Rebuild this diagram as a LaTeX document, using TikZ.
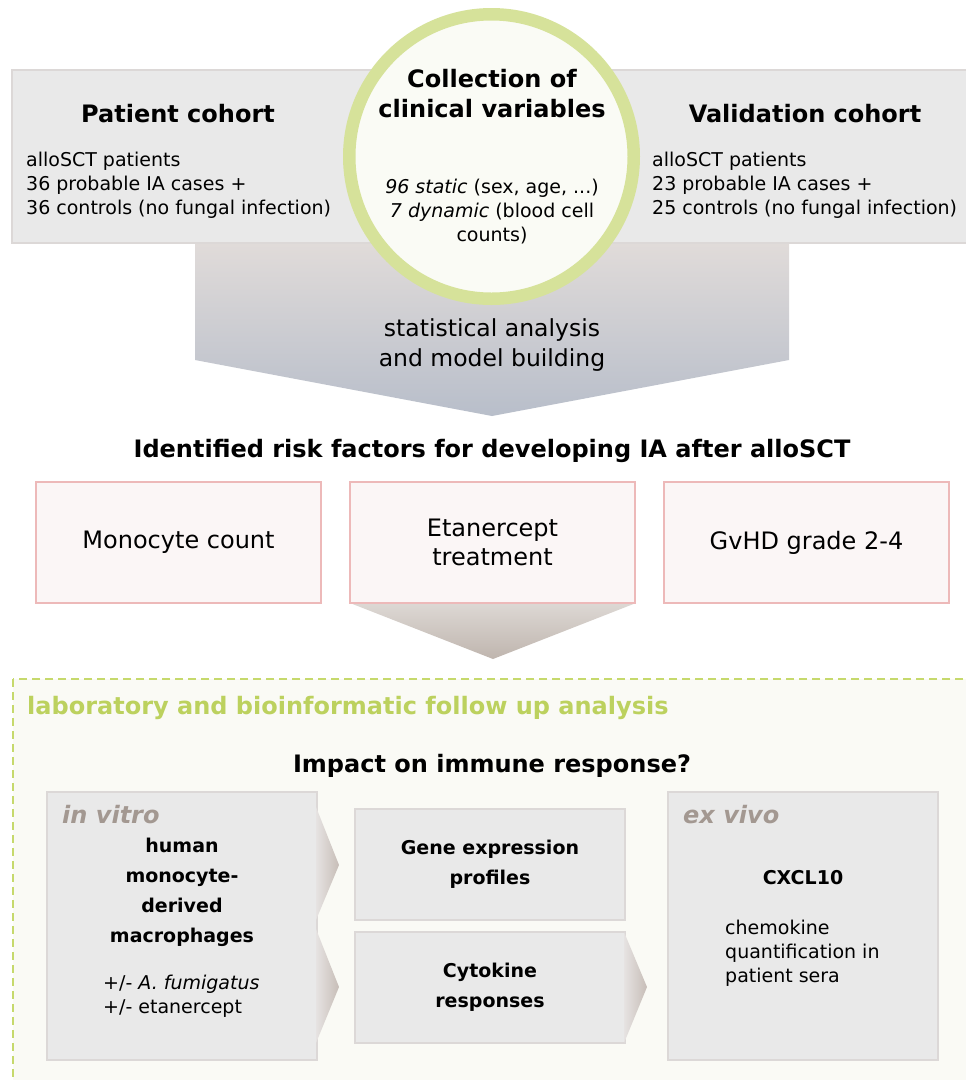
\documentclass[tikz,border=0pt]{standalone}
\usepackage{fontspec}
\setmainfont{DejaVu Sans}
\usepackage{xcolor}
\usetikzlibrary{positioning}
\definecolor{boxgrey}{HTML}{E9E9E9}
\definecolor{boxedge}{HTML}{DCD8D7}
\definecolor{ringgreen}{HTML}{D6E29A}
\definecolor{ringfill}{HTML}{FAFBF5}
\definecolor{arrowtop}{HTML}{E0DBD9}
\definecolor{arrowbot}{HTML}{B8BECA}
\definecolor{pinkfill}{HTML}{FBF6F6}
\definecolor{pinkedge}{HTML}{EDB9B9}
\definecolor{smalltop}{HTML}{DDD8D4}
\definecolor{smallbot}{HTML}{BFB5AE}
\definecolor{chevlight}{HTML}{E6E3E2}
\definecolor{chevdark}{HTML}{C7BDB7}
\definecolor{labgreen}{HTML}{BCD15E}
\definecolor{labedge}{HTML}{C6D96C}
\definecolor{labfill}{HTML}{FAFAF5}
\definecolor{vivogrey}{HTML}{A39891}
\tikzset{
    greybox/.style={draw=boxedge,fill=boxgrey,line width=2pt},
    riskbox/.style={draw=pinkedge,fill=pinkfill,line width=2pt,minimum width=285pt,minimum height=121pt,inner sep=0pt,align=center,font=\fontsize{24}{29}\selectfont},
    headfont/.style={font=\fontsize{24}{30}\bfseries\selectfont},
    bodyfont/.style={font=\fontsize{19}{24}\selectfont},
    smallhead/.style={font=\fontsize{19}{30}\bfseries\selectfont},
    vivofont/.style={font=\fontsize{24}{30}\bfseries\itshape\selectfont,text=vivogrey},
    chevron/.style={left color=chevlight,right color=chevdark}
}
\begin{document}
\begin{tikzpicture}[x=1pt,y=-1pt]
                \useasboundingbox (0,0) rectangle (966,1080);
                \fill[white] (0,0) rectangle (966,1080);
                \shade[top color=arrowtop,bottom color=arrowbot] (195,244) -- (789,244) -- (789,360) -- (492,416) -- (195,360) -- cycle;
                \draw[greybox] (12,70) rectangle (460,243);
                \draw[greybox] (520,70) rectangle (972,243);
                \node[circle,draw=ringgreen,fill=ringfill,line width=12.5pt,minimum size=284.5pt,inner sep=0pt] (collect) at (491.5,156.5) {};
                \node[headfont] (patient) at (178,114) {Patient cohort};
                \node[bodyfont,align=left,anchor=west,inner sep=0pt] (patienttext) at (26,185) {alloSCT patients\\36 probable IA cases +\\36 controls (no fungal infection)};
                \node[headfont] (validation) at (805,114) {Validation cohort};
                \node[bodyfont,align=left,anchor=west,inner sep=0pt] (validationtext) at (652,185) {alloSCT patients\\23 probable IA cases +\\25 controls (no fungal infection)};
                \node[headfont,align=center] (collecttitle) at (492,94) {Collection of\\clinical variables};
                \node[bodyfont,align=center] (collecttext) at (492,212) {\textit{96 static} (sex, age, ...)\\\textit{7 dynamic} (blood cell\\counts)};
                \node[font=\fontsize{23.5}{29.5}\selectfont,align=center] (stats) at (492,345) {statistical analysis\\and model building};
                \node[headfont] (risk) at (492,451) {Identified risk factors for developing IA after alloSCT};
                \shade[top color=smalltop,bottom color=smallbot] (350,603) -- (636,603) -- (493,659) -- cycle;
                \node[riskbox] (monocyte) at (178.5,542.5) {Monocyte count};
                \node[riskbox] (etanercept) at (492.5,542.5) {Etanercept\\treatment};
                \node[riskbox] (gvhd) at (806.5,542.5) {GvHD grade 2-4};
                \draw[draw=labedge,fill=labfill,line width=2pt,dash pattern=on 8pt off 5pt] (13,679) rectangle (990,1100);
                \node[headfont,text=labgreen,anchor=west,inner sep=0pt] (lab) at (27,708) {laboratory and bioinformatic follow up analysis};
                \node[headfont] (impact) at (492,766) {Impact on immune response?};
                \node[greybox,minimum width=270pt,minimum height=268pt,inner sep=0pt] (invitro) at (182,926) {};
                \shade[chevron] (316,807) -- (339,865) -- (316,920) -- cycle;
                \shade[chevron] (316,929) -- (339,987) -- (316,1043) -- cycle;
                \node[vivofont,anchor=west,inner sep=0pt] (invitrolabel) at (62,815) {in vitro};
                \node[smallhead,align=center] (macrophages) at (182,892) {human\\monocyte-\\derived\\macrophages};
                \node[bodyfont,align=left,anchor=west,inner sep=0pt] (treatment) at (103,996) {+/- \textit{A. fumigatus}\\+/- etanercept};
                \node[greybox,smallhead,minimum width=270pt,minimum height=111pt,inner sep=0pt,align=center] (gene) at (490,864.5) {Gene expression\\profiles};
                \node[greybox,smallhead,minimum width=270pt,minimum height=111pt,inner sep=0pt,align=center] (cytokine) at (490,987.5) {Cytokine\\responses};
                \shade[chevron] (624,932) -- (647,987) -- (624,1043) -- cycle;
                \node[greybox,minimum width=270pt,minimum height=268pt,inner sep=0pt] (exvivo) at (803,926) {};
                \node[vivofont,anchor=west,inner sep=0pt] (exvivolabel) at (683,815) {ex vivo};
                \node[smallhead] (cxcl) at (803,878) {CXCL10};
                \node[bodyfont,align=left,anchor=west,inner sep=0pt] (chemokine) at (725,953) {chemokine\\quantification in\\patient sera};
\end{tikzpicture}
\end{document}
